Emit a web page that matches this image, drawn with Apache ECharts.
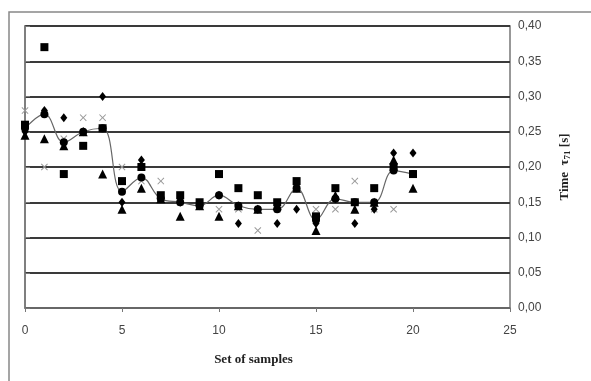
<!DOCTYPE html>
<html>
<head>
<meta charset="utf-8">
<script src="https://cdn.jsdelivr.net/npm/echarts@6/dist/echarts.min.js"></script>
<style>
  html, body { margin: 0; padding: 0; background: #fff; }
  #chart { width: 591px; height: 381px; }
</style>
</head>
<body>
<div id="chart"></div>
<script>
  // samples 0..20
  var samples = [0, 1, 2, 3, 4, 5, 6, 7, 8, 9, 10, 11, 12, 13, 14, 15, 16, 17, 18, 19, 20];
  var squares = [0.26, 0.37, 0.19, 0.23, 0.255, 0.18, 0.20, 0.16, 0.16, 0.15, 0.19, 0.17, 0.16, 0.15, 0.18, 0.13, 0.17, 0.15, 0.17, 0.20, 0.19];
  var diamonds = [0.25, 0.28, 0.27, 0.25, 0.30, 0.15, 0.21, 0.155, 0.15, 0.145, 0.16, 0.12, 0.14, 0.12, 0.14, 0.12, 0.155, 0.12, 0.14, 0.22, 0.22];
  var triangles = [0.245, 0.24, 0.23, 0.25, 0.19, 0.14, 0.17, 0.155, 0.13, 0.145, 0.13, 0.145, 0.14, 0.145, 0.17, 0.11, 0.16, 0.14, 0.15, 0.21, 0.17];
  var crosses = [0.28, 0.20, 0.24, 0.27, 0.27, 0.20, 0.18, 0.18, 0.15, 0.145, 0.14, 0.14, 0.11, 0.14, 0.17, 0.14, 0.14, 0.18, 0.14, 0.14, 0.19];
  var means = [0.255, 0.275, 0.235, 0.25, 0.255, 0.165, 0.185, 0.155, 0.15, 0.145, 0.16, 0.145, 0.14, 0.14, 0.17, 0.125, 0.155, 0.15, 0.15, 0.195, 0.19];

  function pairs(vals) {
    var out = [];
    for (var i = 0; i < samples.length; i++) {
      out.push([samples[i], vals[i]]);
    }
    return out;
  }

  var xPath = 'path://M0,1L1,0L5,4L9,0L10,1L6,5L10,9L9,10L5,6L1,10L0,9L4,5Z';
  var myChart = echarts.init(document.getElementById('chart'));
  myChart.setOption({
    animation: false,
    graphic: [{
      type: 'rect',
      shape: { x: 9, y: 12, width: 590, height: 380 },
      style: { fill: 'none', stroke: '#888', lineWidth: 1.5 }
    }],
    grid: {
      left: 25,
      right: 81,
      top: 26,
      bottom: 73,
      show: true,
      borderColor: '#777',
      borderWidth: 1.5
    },
    xAxis: {
      type: 'value',
      min: 0,
      max: 25,
      interval: 5,
      name: 'Set of samples',
      nameLocation: 'middle',
      nameGap: 45,
      nameTextStyle: { fontFamily: 'Liberation Serif', fontWeight: 'bold', fontSize: 13, color: '#222', padding: [0, 28, 0, 0] },
      axisLine: { lineStyle: { color: '#777', width: 1.5 } },
      axisTick: { show: true, length: 4, lineStyle: { color: '#777' } },
      axisLabel: { fontFamily: 'Liberation Sans', fontSize: 12, color: '#444', margin: 17 },
      splitLine: { show: false }
    },
    yAxis: {
      type: 'value',
      position: 'right',
      min: 0,
      max: 0.4,
      interval: 0.05,
      name: '{a|Time  τ}{s|71}{a| [s]}',
      nameLocation: 'middle',
      nameRotate: 90,
      nameGap: 47,
      nameTextStyle: {
        rich: {
          a: { fontFamily: 'Liberation Serif', fontWeight: 'bold', fontSize: 13, color: '#222' },
          s: { fontFamily: 'Liberation Serif', fontWeight: 'bold', fontSize: 9, color: '#222', verticalAlign: 'bottom', padding: [6, 0, 0, 0] }
        }
      },
      axisLine: { show: true, lineStyle: { color: '#777', width: 1.5 } },
      axisTick: { show: true, length: 5, lineStyle: { color: '#777' } },
      axisLabel: {
        fontFamily: 'Liberation Sans', fontSize: 12, color: '#444', margin: 8,
        formatter: function (v) { return v.toFixed(2).replace('.', ','); }
      },
      splitLine: { show: true, lineStyle: { color: '#3a3a3a', width: 2 } }
    },
    series: [
      {
        name: 'mean', type: 'line', data: pairs(means), smooth: 0.4,
        symbol: 'circle', symbolSize: 8,
        lineStyle: { color: '#666', width: 1.2 },
        itemStyle: { color: '#000' }, z: 3
      },
      {
        name: 'squares', type: 'scatter', data: pairs(squares),
        symbol: 'rect', symbolSize: 8, itemStyle: { color: '#000', opacity: 1 }, z: 4
      },
      {
        name: 'diamonds', type: 'scatter', data: pairs(diamonds),
        symbol: 'diamond', symbolSize: [7, 9], itemStyle: { color: '#000', opacity: 1 }, z: 4
      },
      {
        name: 'triangles', type: 'scatter', data: pairs(triangles),
        symbol: 'triangle', symbolSize: 9, itemStyle: { color: '#000', opacity: 1 }, z: 4
      },
      {
        name: 'crosses', type: 'scatter', data: pairs(crosses),
        symbol: xPath, symbolSize: 7, itemStyle: { color: '#999', opacity: 1 }, z: 2
      }
    ]
  });
</script>
</body>
</html>
